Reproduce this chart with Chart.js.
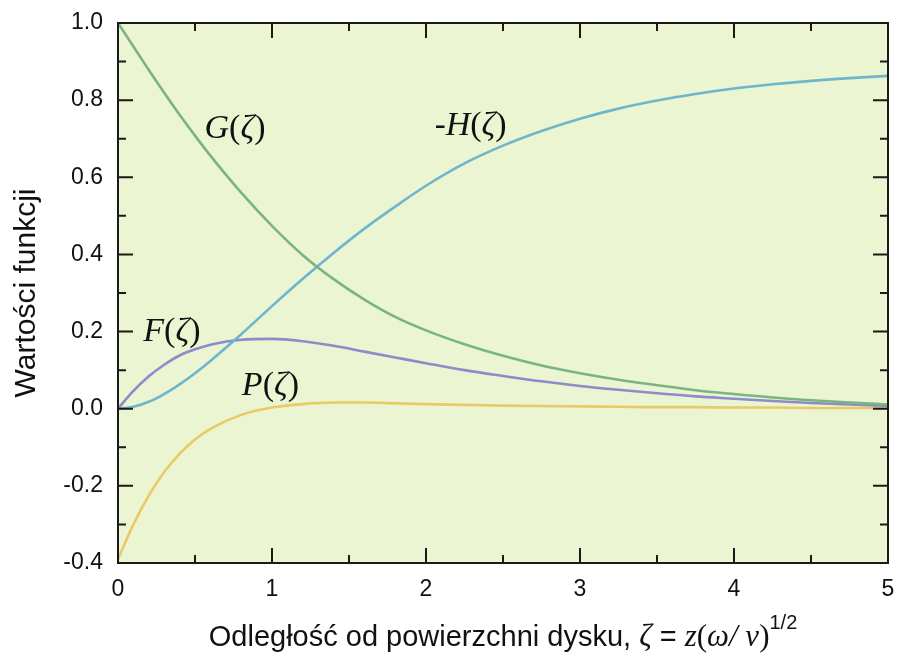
<!DOCTYPE html>
<html>
<head>
<meta charset="utf-8">
<script src="https://cdn.jsdelivr.net/npm/chart.js@4"></script>
<style>
  html, body { margin: 0; padding: 0; background: #fff; }
  #wrap { width: 897px; height: 655px; }
</style>
</head>
<body>
<div id="wrap"><canvas id="myChart" width="897" height="655"></canvas></div>
<script>
// odległość od dysku (zeta)
const zeta = [0, 0.1, 0.2, 0.3, 0.4, 0.5, 0.6, 0.8, 1.0, 1.2, 1.4, 1.6, 1.8, 2.0,
  2.25, 2.5, 2.75, 3.0, 3.25, 3.5, 3.75, 4.0, 4.25, 4.5, 4.75, 5.0];

const F = [0, 0.046, 0.084, 0.114, 0.138, 0.154, 0.166, 0.179, 0.181, 0.175, 0.163, 0.148, 0.133, 0.118,
  0.100, 0.085, 0.071, 0.059, 0.049, 0.040, 0.032, 0.026, 0.020, 0.015, 0.011, 0.007];
const G = [1.0, 0.939, 0.878, 0.819, 0.762, 0.708, 0.656, 0.560, 0.474, 0.398, 0.336, 0.283, 0.238, 0.203,
  0.167, 0.137, 0.112, 0.092, 0.075, 0.061, 0.048, 0.038, 0.029, 0.022, 0.016, 0.011];
const minusH = [0, 0.005, 0.018, 0.038, 0.063, 0.092, 0.124, 0.193, 0.266, 0.337, 0.404, 0.467, 0.524, 0.578,
  0.636, 0.682, 0.720, 0.752, 0.778, 0.799, 0.816, 0.830, 0.841, 0.850, 0.857, 0.863];
const P = [-0.39, -0.30, -0.225, -0.164, -0.117, -0.080, -0.052, -0.016, 0.003, 0.012, 0.016, 0.016, 0.014, 0.012,
  0.010, 0.008, 0.007, 0.006, 0.005, 0.004, 0.004, 0.003, 0.003, 0.002, 0.002, 0.002];

const xTicks = [0, 1, 2, 3, 4, 5];
const xTickLabels = ["0", "1", "2", "3", "4", "5"];
const yTicks = [-0.4, -0.2, 0, 0.2, 0.4, 0.6, 0.8, 1.0];
const yTickLabels = ["-0.4", "-0.2", "0.0", "0.2", "0.4", "0.6", "0.8", "1.0"];
const xMinor = [0.5, 1.5, 2.5, 3.5, 4.5];
const yMinor = [-0.3, -0.1, 0.1, 0.3, 0.5, 0.7, 0.9];

// podpisy krzywych: [nazwa, x, y]
const curveLabels = [
  ["G", 0.76, 0.725],
  ["-H", 2.29, 0.733],
  ["F", 0.35, 0.199],
  ["P", 0.99, 0.059]
];

const sans = '"Liberation Sans", Arial, sans-serif';
const serif = '"Liberation Serif", "Times New Roman", serif';

const toPoints = arr => zeta.map((z, i) => ({ x: z, y: arr[i] }));

const plotBg = {
  id: "plotBg",
  beforeDraw(chart) {
    const { ctx, chartArea: a } = chart;
    ctx.save();
    ctx.fillStyle = "#ebf5d1";
    ctx.fillRect(a.left, a.top, a.right - a.left, a.bottom - a.top);
    ctx.restore();
  }
};

const frameAndTicks = {
  id: "frameAndTicks",
  afterDraw(chart) {
    const { ctx, chartArea: a } = chart;
    const xs = chart.scales.x, ys = chart.scales.y;
    ctx.save();
    ctx.strokeStyle = "#1a1a1a";
    ctx.lineWidth = 2;
    ctx.strokeRect(a.left, a.top, a.right - a.left, a.bottom - a.top);
    const tick = (vals, len, isX) => {
      vals.forEach(v => {
        ctx.beginPath();
        if (isX) {
          const px = xs.getPixelForValue(v);
          ctx.moveTo(px, a.bottom); ctx.lineTo(px, a.bottom - len);
          ctx.moveTo(px, a.top); ctx.lineTo(px, a.top + len);
        } else {
          const py = ys.getPixelForValue(v);
          ctx.moveTo(a.left, py); ctx.lineTo(a.left + len, py);
          ctx.moveTo(a.right, py); ctx.lineTo(a.right - len, py);
        }
        ctx.stroke();
      });
    };
    tick(xTicks, 15, true);
    tick(xMinor, 8, true);
    tick(yTicks, 15, false);
    tick(yMinor, 8, false);

    // podpisy krzywych
    ctx.fillStyle = "#111";
    ctx.textBaseline = "middle";
    curveLabels.forEach(([name, lx, ly]) => {
      const parts = [];
      if (name[0] === "-") parts.push(["-", "33px " + serif]);
      parts.push([name.replace("-", ""), "italic 34px " + serif]);
      parts.push(["(", "34px " + serif]);
      parts.push(["ζ", "italic 34px " + serif]);
      parts.push([")", "34px " + serif]);
      drawRuns(ctx, parts, xs.getPixelForValue(lx), ys.getPixelForValue(ly));
    });

    // tytuł osi x
    ctx.textBaseline = "alphabetic";
    const runs = [
      ["Odległość od powierzchni dysku, ", "29px " + sans],
      ["ζ", "italic 31px " + serif],
      [" = ", "29px " + sans],
      ["z", "italic 31px " + serif],
      ["(", "31px " + serif],
      ["ω", "italic 31px " + serif],
      ["/ ", "italic 31px " + serif],
      ["ν", "italic 31px " + serif],
      [")", "31px " + serif],
      ["1/2", "20px " + sans, -17]
    ];
    drawRuns(ctx, runs, (a.left + a.right) / 2, 646);
    ctx.restore();
  }
};

function drawRuns(ctx, runs, cx, y) {
  let total = 0;
  runs.forEach(r => { ctx.font = r[1]; total += ctx.measureText(r[0]).width; });
  let x = cx - total / 2;
  ctx.textAlign = "left";
  runs.forEach(r => {
    ctx.font = r[1];
    ctx.fillText(r[0], x, y + (r[2] || 0));
    x += ctx.measureText(r[0]).width;
  });
}

const ctx = document.getElementById("myChart").getContext("2d");
const chart = new Chart(ctx, {
  type: "line",
  data: {
    datasets: [
      { label: "G", data: toPoints(G), borderColor: "#79b482" },
      { label: "-H", data: toPoints(minusH), borderColor: "#6eb6cc" },
      { label: "F", data: toPoints(F), borderColor: "#8c8ccb" },
      { label: "P", data: toPoints(P), borderColor: "#ecc967" }
    ]
  },
  options: {
    responsive: false,
    animation: false,
    devicePixelRatio: 1,
    layout: { padding: { top: 23, right: 9, left: 0, bottom: 0 } },
    elements: {
      point: { radius: 0 },
      line: { borderWidth: 2.6, cubicInterpolationMode: "monotone", fill: false }
    },
    plugins: { legend: { display: false }, tooltip: { enabled: false } },
    scales: {
      x: {
        type: "linear",
        min: 0, max: 5,
        grid: { display: false, drawTicks: false },
        border: { display: false },
        afterBuildTicks: s => { s.ticks = xTicks.map(v => ({ value: v })); },
        afterFit: s => { s.height = 92; s.paddingLeft = 0; s.paddingRight = 0; },
        ticks: {
          padding: 13,
          color: "#111",
          font: { family: sans, size: 23 },
          maxRotation: 0,
          callback: v => xTickLabels[xTicks.indexOf(v)]
        }
      },
      y: {
        type: "linear",
        min: -0.4, max: 1.0,
        grid: { display: false, drawTicks: false },
        border: { display: false },
        afterBuildTicks: s => { s.ticks = yTicks.map(v => ({ value: v })); },
        afterFit: s => { s.width = 118; s.paddingTop = 0; s.paddingBottom = 0; },
        ticks: {
          padding: 15,
          color: "#111",
          font: { family: sans, size: 23 },
          callback: v => {
            const i = yTicks.findIndex(t => Math.abs(t - v) < 1e-9);
            return yTickLabels[i];
          }
        },
        title: {
          display: true,
          text: "Wartości funkcji",
          color: "#111",
          font: { family: sans, size: 30 },
          padding: { top: 9, bottom: 0 }
        }
      }
    }
  },
  plugins: [plotBg, frameAndTicks]
});
</script>
</body>
</html>
